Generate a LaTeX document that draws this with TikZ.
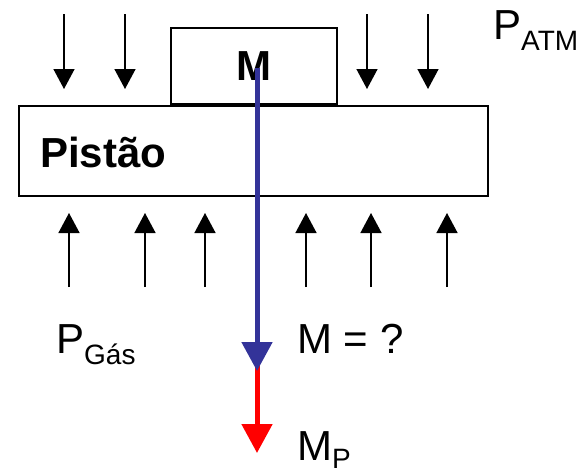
\documentclass[tikz,border=0pt]{standalone}
\usepackage{fontspec}
\setmainfont{Liberation Sans}
\usepackage{xcolor}
\usepackage{tikz}
\usetikzlibrary{arrows.meta, positioning, calc}

\definecolor{forceblue}{RGB}{51,51,153}
\definecolor{forcered}{RGB}{255,0,0}

\newcommand{\bigtxt}{\fontsize{42}{42}\selectfont}
\newcommand{\subtxt}{\fontsize{28}{28}\selectfont}

\tikzset{
    body/.style={draw, line width=1.5pt, minimum width=#1, inner sep=0pt},
    pressure/.style={line width=1.5pt, -{Triangle[length=20pt, width=21pt]}},
    force/.style={line width=5pt, -{Triangle[length=29pt, width=30pt]}},
    label/.style={inner sep=0pt, font=\bigtxt}
}

\begin{document}
\begin{tikzpicture}[x=1pt, y=-1pt]
\useasboundingbox (0,0) rectangle (586,471);

% piston and mass
\node[body=469pt, minimum height=90pt] (piston) at (253.5,151) {};
\node[body=166pt, minimum height=76pt, font=\bfseries\bigtxt] (mass) at (254,66) {M};
\node[label, font=\bfseries\bigtxt, anchor=base west] (pistlbl) at (40,167) {Pistão};

% atmospheric pressure
\foreach \x in {64,125,367,428} {
    \coordinate (atm top \x) at (\x,14);
    \coordinate (atm tip \x) at (\x,89);
    \draw[pressure] (atm top \x) -- (atm tip \x);
}
\node[label, anchor=base west] (patm) at (493,39) {P\raisebox{-11pt}{\subtxt ATM}};

% gas pressure
\foreach \x in {69,145,205,306,371,447} {
    \coordinate (gas foot \x) at (\x,287);
    \coordinate (gas tip \x) at (\x,213);
    \draw[pressure] (gas foot \x) -- (gas tip \x);
}
\node[label, anchor=base west] (pgas) at (56,353) {P\raisebox{-11pt}{\subtxt Gás}};

% weight forces
\coordinate (red start) at (257,152);
\coordinate (red tip) at (257,453);
\coordinate (blue start) at (257,68);
\coordinate (blue tip) at (257,371);
\draw[force, forcered] (red start) -- (red tip);
\draw[force, forceblue] (blue start) -- (blue tip);

\node[label, anchor=base west] (mq) at (297,353) {M = ?};
\node[label, anchor=base west] (mp) at (297,460) {M\raisebox{-8pt}{\subtxt P}};
\end{tikzpicture}
\end{document}
